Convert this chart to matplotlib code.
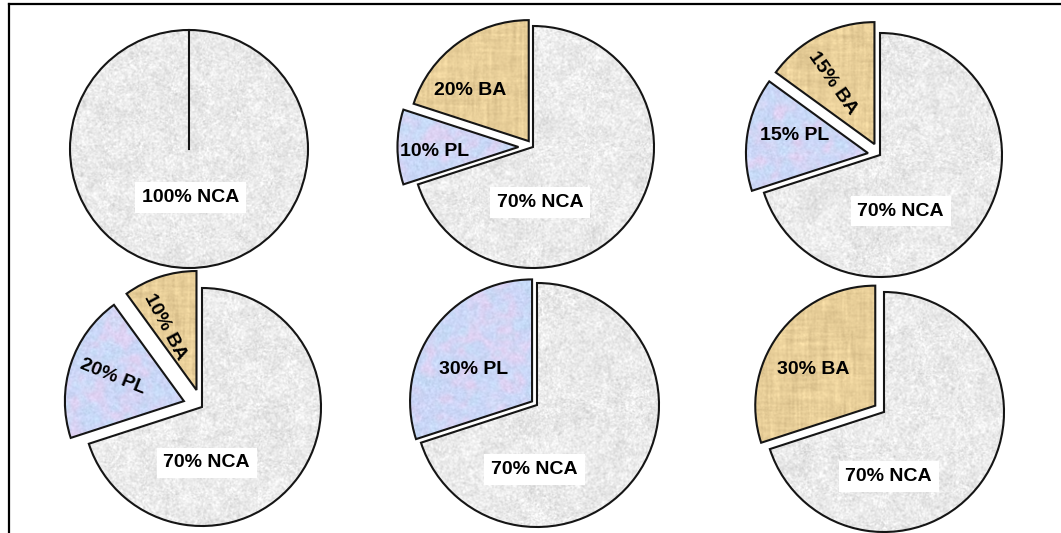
import numpy as np
import matplotlib
matplotlib.use('Agg')
import matplotlib.pyplot as plt
from matplotlib.lines import Line2D

W, H = 1061, 533

# composition of each mixture, in percent
categories = ['NCA', 'PL', 'BA']
nca_share = [100, 70, 70, 70, 70, 70]
pl_share = [0, 10, 15, 20, 30, 0]
ba_share = [0, 20, 15, 10, 0, 30]

# pie centres / radii in pixels, explode per category (NCA, PL, BA)
centres = [(189, 149), (533, 147), (880, 155), (202, 407), (537, 405), (884, 412)]
radii = [119, 121, 122, 119, 122, 120]
explode = [(0, 0, 0), (0, 0.12, 0.06), (0, 0.1, 0.1),
           (0, 0.16, 0.15), (0, 0.05, 0), (0, 0, 0.09)]

# label placement (x, y, rotation) in pie units
label_pos = [
    {'NCA': (0.01, -0.41, 0)},
    {'NCA': (0.06, -0.46, 0), 'PL': (-0.81, -0.04, 0), 'BA': (-0.52, 0.47, 0)},
    {'NCA': (0.17, -0.46, 0), 'PL': (-0.70, 0.16, 0), 'BA': (-0.39, 0.59, -55)},
    {'NCA': (0.04, -0.47, 0), 'PL': (-0.75, 0.25, -22), 'BA': (-0.31, 0.67, -62)},
    {'NCA': (-0.02, -0.53, 0), 'PL': (-0.52, 0.29, 0)},
    {'NCA': (0.04, -0.54, 0), 'BA': (-0.59, 0.35, 0)},
]

rng = np.random.default_rng(7)
N = 320


def noise(sx, sy):
    f = rng.standard_normal((N, N))
    k = np.fft.fftfreq(N)
    g = np.exp(-2 * np.pi ** 2 * (k[:, None] ** 2 * sy ** 2 + k[None, :] ** 2 * sx ** 2))
    out = np.real(np.fft.ifft2(np.fft.fft2(f) * g))
    return (out - out.mean()) / out.std()


def grey_texture():
    lum = 0.92 + 0.032 * noise(0.6, 0.6) + 0.01 * noise(5, 5)
    img = np.stack([lum, lum, lum], axis=-1)
    return np.clip(img, 0, 1)


def tan_texture():
    base = np.array([0.91, 0.81, 0.60])
    mod = 0.018 * noise(0.8, 10) + 0.014 * noise(10, 0.8) + 0.012 * noise(0.6, 0.6)
    img = base[None, None, :] + mod[..., None] * np.array([1.0, 1.0, 0.9])
    return np.clip(img, 0, 1)


def blue_texture():
    blue = np.array([0.79, 0.84, 0.97])
    pink = np.array([0.88, 0.82, 0.95])
    cyan = np.array([0.76, 0.88, 0.97])
    a = 1 / (1 + np.exp(-1.8 * (noise(4, 4) - 0.5)))
    b = 1 / (1 + np.exp(-1.8 * (noise(3, 3) - 0.4)))
    img = blue * (1 - a[..., None]) + pink * a[..., None]
    img = img * (1 - 0.5 * b[..., None]) + cyan * 0.5 * b[..., None]
    img = img + 0.018 * noise(0.7, 0.7)[..., None]
    return np.clip(img, 0, 1)


textures = {'NCA': grey_texture, 'PL': blue_texture, 'BA': tan_texture}

fig = plt.figure(figsize=(W / 100, H / 100), dpi=100)
fig.patch.set_facecolor('white')

S = 145
for i, ((cx, cy), r) in enumerate(zip(centres, radii)):
    ax = fig.add_axes([(cx - S) / W, (H - cy - S) / H, 2 * S / W, 2 * S / H])
    values = [nca_share[i], pl_share[i], ba_share[i]]
    keep = [j for j in range(3) if values[j] > 0]
    wedges, _ = ax.pie([values[j] for j in keep],
                       explode=[explode[i][j] for j in keep],
                       startangle=90, counterclock=False, radius=1,
                       wedgeprops=dict(facecolor='none', edgecolor='#151515',
                                       linewidth=1.5, zorder=3))
    for w, j in zip(wedges, keep):
        name = categories[j]
        im = ax.imshow(textures[name](), extent=[-1.3, 1.3, -1.3, 1.3],
                       zorder=2, interpolation='bilinear')
        im.set_clip_path(w)
        x, y, rot = label_pos[i][name]
        box = None
        if name == 'NCA':
            box = dict(facecolor='white', edgecolor='none', boxstyle='square,pad=0.35')
        ax.text(x, y, f'{values[j]}% {name}', ha='center', va='center',
                fontsize=14, fontweight='bold', family='Liberation Sans',
                rotation=rot, rotation_mode='anchor', bbox=box, zorder=5)
    if len(keep) == 1:
        ax.plot([0, 0], [0, 1], color='#151515', lw=1.5, zorder=4)
    lim = S / r
    ax.set_xlim(-lim, lim)
    ax.set_ylim(-lim, lim)
    ax.set_aspect('equal')
    ax.axis('off')

# outer frame: top and left rules
fig.add_artist(Line2D([9 / W, 1], [1 - 4 / H, 1 - 4 / H], color='black', lw=1.6))
fig.add_artist(Line2D([9 / W, 9 / W], [0, 1 - 4 / H], color='black', lw=1.6))

fig.savefig('out.png', dpi=100)
